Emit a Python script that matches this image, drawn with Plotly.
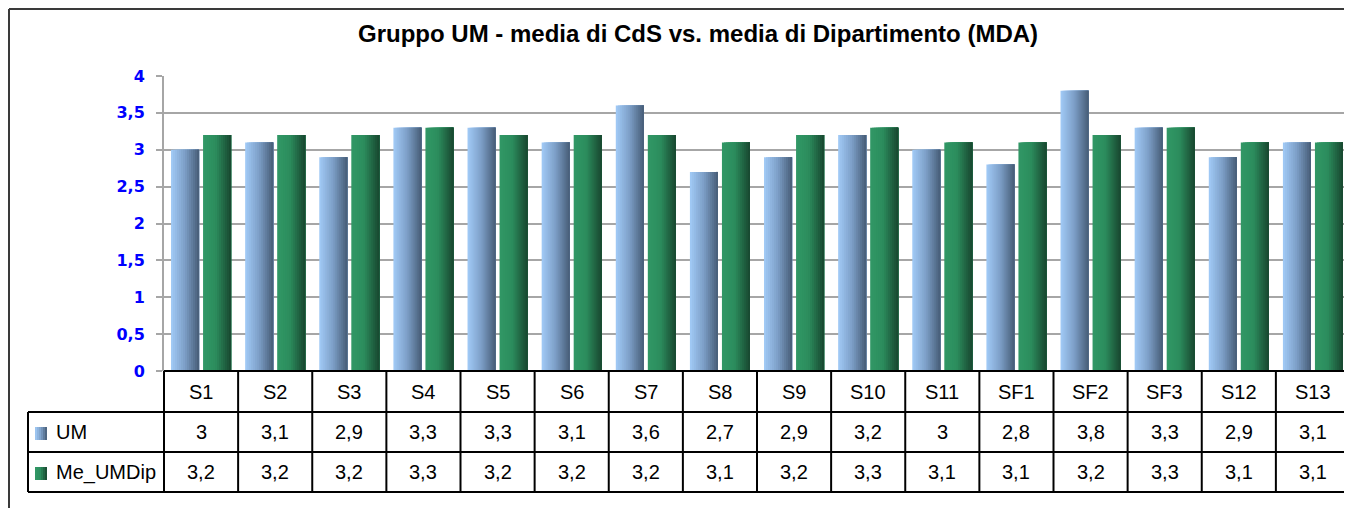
import plotly.graph_objects as go

# ---------------- data ----------------
categories = ["S1", "S2", "S3", "S4", "S5", "S6", "S7", "S8", "S9", "S10",
              "S11", "SF1", "SF2", "SF3", "S12", "S13"]
um = [3, 3.1, 2.9, 3.3, 3.3, 3.1, 3.6, 2.7, 2.9, 3.2, 3, 2.8, 3.8, 3.3, 2.9, 3.1]
me_umdip = [3.2, 3.2, 3.2, 3.3, 3.2, 3.2, 3.2, 3.1, 3.2, 3.3, 3.1, 3.1, 3.2, 3.3, 3.1, 3.1]
series_names = ["UM", "Me_UMDip"]
title_text = "Gruppo UM - media di CdS vs. media di Dipartimento (MDA)"

# ---------------- geometry (reference-window pixels) ----------------
OFF = 8  # page body margin: the figure starts at (8, 8) in the window
WIN_W, WIN_H = 1352, 508
WIDTH, HEIGHT = WIN_W - OFF, WIN_H - OFF
L, R, T, B = 164, 1350, 76, 371
PW, PH = R - L, B - T


def px(x):
    return (x - L) / PW


def py(y):
    return (B - y) / PH


def fmt(v):
    return f"{v:g}".replace(".", ",")


def lerp_color(stops, t):
    for (t0, c0), (t1, c1) in zip(stops, stops[1:]):
        if t0 <= t <= t1:
            f = (t - t0) / (t1 - t0) if t1 > t0 else 0
            c = [round(a + (b - a) * f) for a, b in zip(c0, c1)]
            return f"rgb({c[0]},{c[1]},{c[2]})"
    c = stops[-1][1]
    return f"rgb({c[0]},{c[1]},{c[2]})"


um_stops = [(0, (162, 203, 247)), (0.5, (124, 158, 198)), (1, (70, 92, 118))]
me_stops = [(0, (49, 152, 102)), (0.45, (44, 141, 93)), (1, (24, 70, 47))]

xs = list(range(len(categories)))
fig = go.Figure()

N = 14
bar_w = 0.378
for vals, start, stops, name in [(um, -0.405, um_stops, series_names[0]),
                                 (me_umdip, 0.027, me_stops, series_names[1])]:
    dw = bar_w / N
    for k in range(N):
        fig.add_trace(go.Bar(
            x=xs, y=vals,
            width=[bar_w - k * dw] * len(xs),
            offset=[start + k * dw] * len(xs),
            marker=dict(color=lerp_color(stops, (k + 0.5) / N), line=dict(width=0)),
            name=name, showlegend=False,
            hovertemplate=name + " %{y}<extra></extra>",
        ))

shapes = []
annotations = []
BLACK = "#000000"


def hline(x0, x1, y, color=BLACK, w=2):
    shapes.append(dict(type="line", xref="paper", yref="paper",
                       x0=px(x0), x1=px(x1), y0=py(y), y1=py(y),
                       line=dict(color=color, width=w)))


def vline(x, y0, y1, color=BLACK, w=2):
    shapes.append(dict(type="line", xref="paper", yref="paper",
                       x0=px(x), x1=px(x), y0=py(y0), y1=py(y1),
                       line=dict(color=color, width=w)))


# outer chart border (left + top)
hline(9, WIN_W + 2, 9, "#3a3a3a", 2)
vline(9, 9, WIN_H + 2, "#3a3a3a", 2)

# data table
row_tops = [371, 412, 452, 492]
hline(L, R, 371)
for y in row_tops[1:]:
    hline(28, R, y)
vline(28, 412, 492)
ncol = len(categories)
for i in range(ncol + 1):
    xpix = L + i * PW / ncol
    vline(xpix, 371, 492)

font_tab = dict(family="Liberation Sans, Arial", size=20, color="#000000")
row_centers = [(row_tops[j] + row_tops[j + 1]) / 2 for j in range(3)]
for i, cat in enumerate(categories):
    annotations.append(dict(x=i, xref="x", y=py(row_centers[0]), yref="paper",
                            text=cat, showarrow=False, font=font_tab,
                            xanchor="center", yanchor="middle"))
    annotations.append(dict(x=i, xref="x", y=py(row_centers[1]), yref="paper",
                            text=fmt(um[i]), showarrow=False, font=font_tab,
                            xanchor="center", yanchor="middle"))
    annotations.append(dict(x=i, xref="x", y=py(row_centers[2]), yref="paper",
                            text=fmt(me_umdip[i]), showarrow=False, font=font_tab,
                            xanchor="center", yanchor="middle"))

# legend keys in the table
for j, (name, stops) in enumerate([(series_names[0], um_stops), (series_names[1], me_stops)]):
    yc = row_centers[j + 1] + 1.5
    sx0, sx1 = 35, 47
    nstrip = 6
    for s in range(nstrip):
        a = sx0 + s * (sx1 - sx0) / nstrip
        b = sx0 + (s + 1) * (sx1 - sx0) / nstrip
        shapes.append(dict(type="rect", xref="paper", yref="paper",
                           x0=px(a), x1=px(b), y0=py(yc - 6.5), y1=py(yc + 6.5),
                           line=dict(width=0),
                           fillcolor=lerp_color(stops, (s + 0.5) / nstrip)))
    annotations.append(dict(x=px(54), xref="paper", y=py(row_centers[j + 1]), yref="paper",
                            text=name, showarrow=False, font=font_tab,
                            xanchor="left", yanchor="middle"))

# title
annotations.append(dict(x=px(698), xref="paper", y=py(33), yref="paper",
                        text="<b>" + title_text + "</b>", showarrow=False,
                        font=dict(family="Liberation Sans, Arial", size=24, color="#000000"),
                        xanchor="center", yanchor="middle"))

GRID = "#A6A6A6"
fig.update_layout(
    width=WIDTH, height=HEIGHT,
    margin=dict(l=L - OFF, r=WIN_W - R, t=T - OFF, b=WIN_H - B, pad=0),
    paper_bgcolor="white", plot_bgcolor="white",
    barmode="overlay",
    separators=",.",
    showlegend=False,
    xaxis=dict(range=[-0.5, len(categories) - 0.5], showticklabels=False,
               showgrid=False, zeroline=False, showline=False, fixedrange=True),
    yaxis=dict(range=[0, 4], dtick=0.5, tick0=0,
               showgrid=True, gridcolor=GRID, gridwidth=2,
               zeroline=False, showline=True, linecolor=GRID, linewidth=2,
               ticks="outside", ticklen=6, tickwidth=2, tickcolor=GRID,
               ticklabelstandoff=8,
               tickfont=dict(family="DejaVu Sans, Verdana", size=16, color="#0000FF",
                             weight="bold"),
               fixedrange=True),
    shapes=shapes,
    annotations=annotations,
)

fig.write_html("out.html")
